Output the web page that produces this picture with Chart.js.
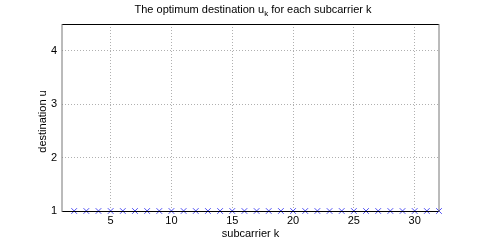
<!DOCTYPE html>
<html>
<head>
<meta charset="utf-8">
<script src="https://cdn.jsdelivr.net/npm/chart.js@4"></script>
<style>
  html, body { margin: 0; padding: 0; background: #fff; }
  #wrap { width: 485px; height: 241px; }
</style>
</head>
<body>
<div id="wrap"><canvas id="chart" width="485" height="241"></canvas></div>
<script>
// ---------------------------------------------------------------------------
// Data
// ---------------------------------------------------------------------------
const subcarriers = [2, 3, 4, 5, 6, 7, 8, 9, 10, 11, 12, 13, 14, 15, 16, 17,
                     18, 19, 20, 21, 22, 23, 24, 25, 26, 27, 28, 29, 30, 31, 32];
const destination = [1, 1, 1, 1, 1, 1, 1, 1, 1, 1, 1, 1, 1, 1, 1, 1,
                     1, 1, 1, 1, 1, 1, 1, 1, 1, 1, 1, 1, 1, 1, 1];
const xTicks = [5, 10, 15, 20, 25, 30];
const yTicks = [1, 2, 3, 4];

const FONT = 'Liberation Sans, Arial, Helvetica, sans-serif';

// Title with subscript, y label and box around the axes, MATLAB style
const matlabDecor = {
  id: 'matlabDecor',
  afterDraw(chart) {
    const { ctx, chartArea: a } = chart;
    ctx.save();
    // box: top/bottom crisp, sides a little softer like the reference
    ctx.strokeStyle = '#000';
    ctx.lineWidth = 1;
    ctx.beginPath();
    ctx.moveTo(a.left, a.top + 0.5); ctx.lineTo(a.right, a.top + 0.5);
    ctx.moveTo(a.left, a.bottom + 0.5); ctx.lineTo(a.right, a.bottom + 0.5);
    ctx.stroke();
    ctx.strokeStyle = '#777';
    ctx.beginPath();
    ctx.moveTo(a.left, a.top); ctx.lineTo(a.left, a.bottom + 1);
    ctx.moveTo(a.right, a.top); ctx.lineTo(a.right, a.bottom + 1);
    ctx.stroke();

    // title
    const pre = 'The optimum destination u';
    const sub = 'k';
    const post = ' for each subcarrier k';
    ctx.fillStyle = '#000';
    ctx.textBaseline = 'alphabetic';
    ctx.textAlign = 'left';
    ctx.font = `11px ${FONT}`;
    const wPre = ctx.measureText(pre).width;
    const wPost = ctx.measureText(post).width;
    ctx.font = `8px ${FONT}`;
    const wSub = ctx.measureText(sub).width;
    const total = wPre + wSub + wPost;
    let x = 253 - total / 2;
    const base = 13;
    ctx.font = `11px ${FONT}`;
    ctx.fillText(pre, x, base);
    x += wPre;
    ctx.font = `8px ${FONT}`;
    ctx.fillText(sub, x, base + 3);
    x += wSub;
    ctx.font = `11px ${FONT}`;
    ctx.fillText(post, x, base);

    // y axis label
    ctx.translate(46, (a.top + a.bottom) / 2 + 4);
    ctx.rotate(-Math.PI / 2);
    ctx.textAlign = 'center';
    ctx.font = `11px ${FONT}`;
    ctx.fillText('destination u', 0, 0);
    ctx.restore();
  },
};

const gridStyle = {
  color: '#b0b0b0',
  lineWidth: 1,
  tickLength: 0,
  drawTicks: false,
};

new Chart(document.getElementById('chart'), {
  type: 'scatter',
  data: {
    datasets: [{
      data: subcarriers.map((k, i) => ({ x: k, y: destination[i] })),
      pointStyle: 'crossRot',
      pointRadius: 4,
      borderColor: '#4f4ff5',
      borderWidth: 1,
      clip: false,
    }],
  },
  options: {
    animation: false,
    responsive: false,
    devicePixelRatio: 1,
    layout: { padding: { top: 24, right: 46, left: 0, bottom: 0 } },
    plugins: { legend: { display: false }, tooltip: { enabled: false }, title: { display: false } },
    scales: {
      x: {
        type: 'linear',
        min: 1,
        max: 32,
        afterBuildTicks: s => { s.ticks = xTicks.map(v => ({ value: v })); },
        afterFit: s => { s.height = 30; },
        grid: { ...gridStyle },
        border: { display: false, dash: [1, 2] },
        ticks: { color: '#000', font: { family: FONT, size: 11 }, padding: 3, maxRotation: 0 },
        title: { display: true, text: 'subcarrier k', color: '#000', font: { family: FONT, size: 11 }, padding: { top: -2, bottom: 0 } },
      },
      y: {
        type: 'linear',
        min: 1,
        max: 4.5,
        afterBuildTicks: s => { s.ticks = yTicks.map(v => ({ value: v })); },
        afterFit: s => { s.width = 62; },
        grid: { ...gridStyle },
        border: { display: false, dash: [1, 2] },
        ticks: { color: '#000', font: { family: FONT, size: 11 }, padding: 5 },
      },
    },
  },
  plugins: [matlabDecor],
});
</script>
</body>
</html>
